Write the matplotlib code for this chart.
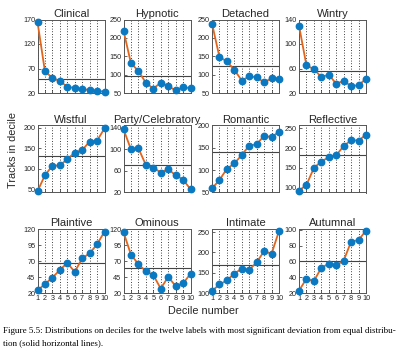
import matplotlib
matplotlib.use("Agg")
import matplotlib.pyplot as plt

deciles = [1, 2, 3, 4, 5, 6, 7, 8, 9, 10]

labels = ["Clinical", "Hypnotic", "Detached", "Wintry",
          "Wistful", "Party/Celebratory", "Romantic", "Reflective",
          "Plaintive", "Ominous", "Intimate", "Autumnal"]

clinical = [165, 64, 51, 44, 33, 30, 28, 26, 24, 23]
hypnotic = [220, 131, 110, 78, 62, 78, 69, 57, 66, 63]
detached = [239, 148, 136, 113, 84, 95, 93, 79, 90, 89]
wintry = [130, 65, 59, 46, 50, 35, 40, 31, 33, 43]
wistful = [45, 84, 107, 108, 123, 139, 145, 166, 168, 198]
party = [137, 100, 102, 71, 66, 57, 63, 52, 44, 26]
romantic = [59, 78, 103, 115, 134, 155, 158, 177, 174, 186]
reflective = [93, 107, 150, 166, 177, 182, 205, 220, 219, 234]
plaintive = [24, 34, 44, 56, 67, 53, 74, 82, 96, 116]
ominous = [115, 80, 65, 54, 48, 27, 45, 31, 35, 50]
intimate = [105, 121, 131, 148, 160, 157, 176, 203, 197, 253]
autumnal = [23, 38, 35, 52, 57, 55, 61, 85, 87, 99]

series = [clinical, hypnotic, detached, wintry, wistful, party,
          romantic, reflective, plaintive, ominous, intimate, autumnal]

equal_line = [49, 96, 124, 56, 132, 71, 140, 182, 67, 59, 170, 61]

ylims = [(20, 170), (50, 250), (50, 250), (20, 140),
         (42, 205), (20, 144), (50, 200), (88, 257),
         (20, 120), (20, 120), (100, 258), (20, 101)]

yticks = [[20, 70, 120, 170], [50, 100, 150, 200, 250], [50, 100, 150, 200, 250], [20, 60, 100, 140],
          [50, 100, 150, 200], [20, 60, 100, 140], [50, 100, 150, 200], [100, 150, 200, 250],
          [20, 45, 70, 95, 120], [20, 45, 70, 95, 120], [100, 150, 200, 250], [20, 40, 60, 80, 100]]

plt.rcParams['font.family'] = ['Liberation Sans', 'DejaVu Sans']

W, H = 400, 362
fig = plt.figure(figsize=(W / 100, H / 100), dpi=100)

col_lefts = [37.5, 123.5, 212, 299]
col_w = 67
row_tops = [19.5, 125.5, 229]
row_h = [73.5, 67, 64]

line_c = '#E2651C'
mark_c = '#0B78C2'

for i, (lab, vals) in enumerate(zip(labels, series)):
    r, c = divmod(i, 4)
    left = col_lefts[c] / W
    bottom = 1 - (row_tops[r] + row_h[r]) / H
    ax = fig.add_axes([left, bottom, col_w / W, row_h[r] / H])
    ax.plot(deciles, vals, color=line_c, lw=1.3, zorder=3, clip_on=False)
    ax.plot(deciles, vals, 'o', color=mark_c, ms=4.6, zorder=4, clip_on=False, mec=mark_c)
    ax.axhline(equal_line[i], color='#444444', lw=0.8, zorder=2)
    ax.set_xlim(1, 10)
    ax.set_ylim(*ylims[i])
    ax.set_yticks(yticks[i])
    ax.set_xticks(deciles)
    ax.grid(axis='x', color='black', linestyle=(0, (1, 2.2)), lw=0.6)
    ax.tick_params(direction='in', length=2, width=0.5, labelsize=5.2, pad=1.5,
                   colors='#262626')
    if r < 2:
        ax.set_xticklabels([])
    for s in ax.spines.values():
        s.set_color('#555555')
        s.set_linewidth(0.7)
    ax.set_title(lab, fontsize=8, pad=2, color='#262626')

fig.text(13 / W, 1 - 150 / H, 'Tracks in decile', rotation=90, ha='center', va='center',
         fontsize=7.8, color='#262626')
fig.text(203 / W, 1 - 311 / H, 'Decile number', ha='center', va='center',
         fontsize=7.8, color='#262626')

cap1 = ('Figure 5.5: Distributions on deciles for the twelve labels with most significant '
        'deviation from equal distribu-')
cap2 = 'tion (solid horizontal lines).'
fig.text(3 / W, 1 - 331 / H, cap1, ha='left', va='center', fontsize=6.5,
         family=['Liberation Serif', 'DejaVu Serif'])
fig.text(3 / W, 1 - 343 / H, cap2, ha='left', va='center', fontsize=6.5,
         family=['Liberation Serif', 'DejaVu Serif'])

fig.savefig('out.png', dpi=100, facecolor='white')
